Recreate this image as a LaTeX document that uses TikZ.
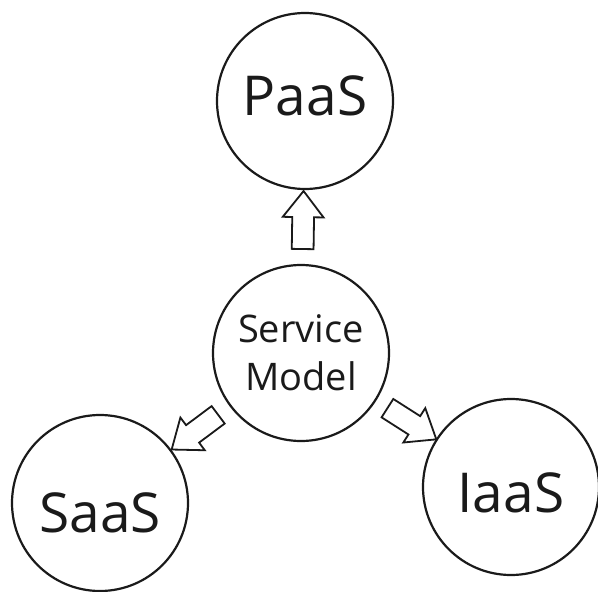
\documentclass[tikz,border=0pt]{standalone}
\usepackage{fontspec}
\setmainfont{Open Sans}
\usetikzlibrary{shapes.arrows}
\definecolor{ink}{HTML}{1A1A1A}
\tikzset{
  model/.style={circle, draw=ink, line width=2.2pt, minimum size=176pt,
    inner sep=0pt, text=ink, font=\fontsize{55}{60}\selectfont},
  hollowarrow/.style={single arrow, draw=ink, fill=white, line width=1.8pt,
    minimum height=58pt, inner xsep=0pt, inner ysep=10pt,
    single arrow head extend=9.5pt, single arrow tip angle=76,
    sloped, allow upside down},
}
\begin{document}
\begin{tikzpicture}[x=1pt, y=-1pt]
  \useasboundingbox[fill=white] (0,0) rectangle (598,592);

  % the four circles
  \node[model, text height=41pt, text depth=12pt] (paas) at (305,101) {PaaS};
  \node[model, align=center, font=\fontsize{38}{48}\selectfont] (sm) at (301,353) {Service\\Model};
  \node[model, text height=59pt, text depth=0pt] (saas) at (100,503) {SaaS};
  \node[model, text height=50pt, text depth=0pt] (iaas) at (511,487) {IaaS};

  % hollow block arrows pointing outwards from the centre
  \path (sm) -- (paas) node[midway, hollowarrow] (up) {};
  \path (sm) -- (saas) node[midway, hollowarrow] (left) {};
  \path (sm) -- (iaas) node[midway, hollowarrow] (right) {};
\end{tikzpicture}
\end{document}
